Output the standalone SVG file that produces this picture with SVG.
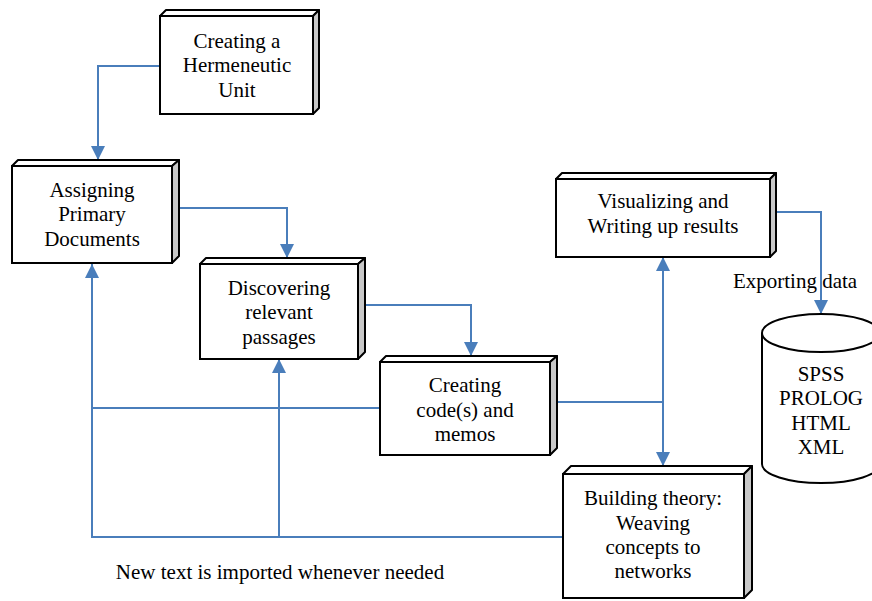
<svg xmlns="http://www.w3.org/2000/svg" width="872" height="601" viewBox="0 0 872 601">
<defs>
<style>
.front{fill:#fff;stroke:#000;stroke-width:2}
.top{fill:#fff;stroke:#000;stroke-width:2;stroke-linejoin:round}
.side{fill:#c8c8c8;stroke:#000;stroke-width:2;stroke-linejoin:round}
.t{font-family:"Liberation Serif","Times New Roman",serif;font-size:21px;fill:#000;text-anchor:middle}
.c{fill:none;stroke:#4a7ebb;stroke-width:2}
.cyl{fill:#fff;stroke:#000;stroke-width:2}
</style>
<marker id="ah" viewBox="0 0 14 14" refX="14" refY="7" markerWidth="14" markerHeight="14" markerUnits="userSpaceOnUse" orient="auto-start-reverse">
<path d="M0,0 L14,7 L0,14 Z" fill="#4a7ebb"/>
</marker>
</defs>
<rect width="872" height="601" fill="#fff"/>

<g id="connectors">
<path class="c" d="M160,66 H98 V160" marker-end="url(#ah)"/>
<path class="c" d="M179,208 H287 V258" marker-end="url(#ah)"/>
<path class="c" d="M365,305 H471 V356" marker-end="url(#ah)"/>
<path class="c" d="M557,402 H663"/>
<path class="c" d="M663,257 V466" marker-start="url(#ah)" marker-end="url(#ah)"/>
<path class="c" d="M776,212 H821 V314" marker-end="url(#ah)"/>
<path class="c" d="M380,408 H92"/>
<path class="c" d="M563,537 H92 V264" marker-end="url(#ah)"/>
<path class="c" d="M279,537 V359" marker-end="url(#ah)"/>
</g>

<g id="n1">
<path class="top" d="M160,16 L166,10 H319 L313,16 Z"/>
<path class="side" d="M313,16 L319,10 V108 L313,114 Z"/>
<rect class="front" x="160" y="16" width="153" height="98"/>
<text class="t" x="237" y="48">Creating a</text>
<text class="t" x="237" y="72">Hermeneutic</text>
<text class="t" x="237" y="97">Unit</text>
</g>

<g id="n2">
<path class="top" d="M12,166 L18,160 H179 L172,166 Z"/>
<path class="side" d="M172,166 L179,160 V256 L172,263 Z"/>
<rect class="front" x="12" y="166" width="160" height="97"/>
<text class="t" x="92" y="197">Assigning</text>
<text class="t" x="92" y="221">Primary</text>
<text class="t" x="92" y="246">Documents</text>
</g>

<g id="n3">
<path class="top" d="M200,264 L206,258 H365 L358,264 Z"/>
<path class="side" d="M358,264 L365,258 V352 L358,359 Z"/>
<rect class="front" x="200" y="264" width="158" height="95"/>
<text class="t" x="279" y="295">Discovering</text>
<text class="t" x="279" y="319">relevant</text>
<text class="t" x="279" y="344">passages</text>
</g>

<g id="n4">
<path class="top" d="M380,362 L386,356 H557 L550,362 Z"/>
<path class="side" d="M550,362 L557,356 V448 L550,455 Z"/>
<rect class="front" x="380" y="362" width="170" height="93"/>
<text class="t" x="465" y="392">Creating</text>
<text class="t" x="465" y="417">code(s) and</text>
<text class="t" x="465" y="441">memos</text>
</g>

<g id="n5">
<path class="top" d="M556,179 L562,173 H776 L770,179 Z"/>
<path class="side" d="M770,179 L776,173 V251 L770,257 Z"/>
<rect class="front" x="556" y="179" width="214" height="78"/>
<text class="t" x="663" y="208">Visualizing and</text>
<text class="t" x="663" y="233">Writing up results</text>
</g>

<g id="n6">
<path class="top" d="M563,474 L571,466 H752 L744,474 Z"/>
<path class="side" d="M744,474 L752,466 V590 L744,598 Z"/>
<rect class="front" x="563" y="474" width="181" height="124"/>
<text class="t" x="653" y="505">Building theory:</text>
<text class="t" x="653" y="530">Weaving</text>
<text class="t" x="653" y="554">concepts to</text>
<text class="t" x="653" y="578">networks</text>
</g>

<g id="n7">
<path class="cyl" d="M762,333 V464 A59,19 0 0 0 880,464 V333"/>
<ellipse class="cyl" cx="821" cy="333" rx="59" ry="19"/>
<text class="t" x="821" y="381">SPSS</text>
<text class="t" x="821" y="405">PROLOG</text>
<text class="t" x="821" y="430">HTML</text>
<text class="t" x="821" y="454">XML</text>
</g>

<g id="labels">
<text class="t" x="795" y="288">Exporting data</text>
<text class="t" x="280" y="579">New text is imported whenever needed</text>
</g>
</svg>
